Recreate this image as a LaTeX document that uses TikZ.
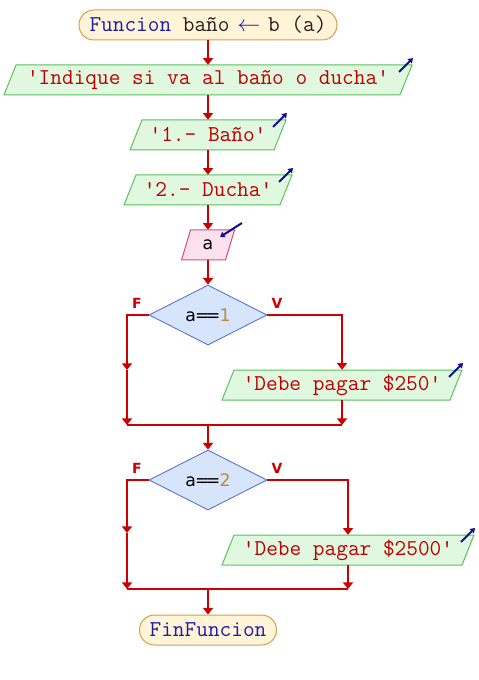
\documentclass[tikz,border=0pt]{standalone}
\usepackage{fontspec}
\setmainfont{Liberation Serif}
\newfontfamily\sansf{DejaVu Sans}
\usetikzlibrary{shapes.geometric,arrows.meta}
\definecolor{flow}{HTML}{CC0000}
\definecolor{termfill}{HTML}{FFF3D8}
\definecolor{termdraw}{HTML}{D4A04C}
\definecolor{outfill}{HTML}{DFF8DF}
\definecolor{outdraw}{HTML}{5CBF5C}
\definecolor{infill}{HTML}{FCE0EC}
\definecolor{indraw}{HTML}{D0508C}
\definecolor{decfill}{HTML}{D6E4FC}
\definecolor{decdraw}{HTML}{4A6AD0}
\definecolor{strred}{HTML}{C00000}
\definecolor{kwblue}{HTML}{1C1CAA}
\definecolor{idtext}{HTML}{2A2020}
\definecolor{numbrown}{HTML}{C08838}
\definecolor{iconblue}{HTML}{101090}
% #1 name, #2 cx, #3 cy, #4 half edge length, #5 text
\newcommand\outbox[5]{%
  \path[outshape] (#2-#4+6,#3-15) -- (#2+#4+6,#3-15) -- (#2+#4-6,#3+15) -- (#2-#4-6,#3+15) -- cycle;
  \node[iotext] (#1) at (#2,#3) {#5};
  \draw[icon] (#2+#4+6-13,#3-8) -- (#2+#4+6+1,#3-22);
}
\begin{document}
\begin{tikzpicture}[x=0.75pt,y=-0.75pt,
 arr/.style={draw=flow, line width=1.8pt, -{Triangle[length=5pt,width=7.5pt]}},
 flowline/.style={draw=flow, line width=1.8pt},
 term/.style={draw=termdraw, fill=termfill, line width=0.75pt, rounded corners=11.25pt, minimum height=22.5pt, inner sep=0pt, font=\ttfamily\fontsize{17}{19}\selectfont, text=kwblue},
 outshape/.style={draw=outdraw, fill=outfill, line width=0.75pt},
 inshape/.style={draw=indraw, fill=infill, line width=0.75pt},
 iotext/.style={inner sep=0pt, minimum height=22.5pt, font=\ttfamily\fontsize{17}{19}\selectfont, text=strred},
 dec/.style={diamond, aspect=2, draw=decdraw, fill=decfill, line width=0.6pt, minimum width=88.5pt, minimum height=45pt, inner sep=0pt, font=\sansf\fontsize{13}{15}\selectfont},
 lbl/.style={font=\sansf\bfseries\fontsize{10.5}{12}\selectfont, text=flow, inner sep=0pt},
 icon/.style={draw=iconblue, line width=1.5pt, -{Triangle[length=3.5pt,width=4.5pt]}},
]
\useasboundingbox (0,0) rectangle (478,680);

% start
\node[term, minimum width=193.5pt] (start) at (208,25)
  {Funcion {\color{idtext}baño}\makebox[1.7em]{$\leftarrow$}{\color{idtext}b (a)}};

% outputs
\outbox{o1}{208}{80}{198}{'Indique si va al baño o ducha'}
\outbox{o2}{208}{135}{72}{'1.- Baño'}
\outbox{o3}{208}{190}{78}{'2.- Ducha'}

% input
\path[inshape] (208-22+4.5,245-15) -- (208+22+4.5,245-15) -- (208+22-4.5,245+15) -- (208-22-4.5,245+15) -- cycle;
\node[iotext, font=\sansf\fontsize{13}{15}\selectfont, text=black] (in) at (208,245) {a};
\draw[icon] (242,223) -- (220,237);

% decision 1
\node[dec] (d1) at (208,315) {a\kern-0.05em=\kern-0.22em=\kern-0.05em{\color{numbrown}1}};
\node[lbl] (F1) at (137,303) {F};
\node[lbl] (V1) at (277,303) {V};
\outbox{o4}{342}{385}{114}{'Debe pagar \$250'}
\coordinate (f1) at (127,370);
\coordinate (j1l) at (127,425);
\coordinate (j1r) at (342,425);
\coordinate (j1) at (208,425);

% decision 2
\node[dec] (d2) at (208,480) {a\kern-0.05em=\kern-0.22em=\kern-0.05em{\color{numbrown}2}};
\node[lbl] (F2) at (137,468) {F};
\node[lbl] (V2) at (277,468) {V};
\outbox{o5}{348}{550}{120}{'Debe pagar \$2500'}
\coordinate (f2) at (127,533);
\coordinate (j2l) at (127,589);
\coordinate (j2r) at (348,589);
\coordinate (j2) at (208,589);

% end
\node[term, minimum width=102.75pt] (end) at (208,630) {FinFuncion};

% connectors
\draw[arr] (start) -- (o1);
\draw[arr] (o1) -- (o2);
\draw[arr] (o2) -- (o3);
\draw[arr] (o3) -- (in);
\draw[arr] (in) -- (d1);
\draw[arr] (d1.west) -| (f1);
\draw[arr] (f1) -- (j1l);
\draw[arr] (d1.east) -| (o4.north);
\draw[arr] (o4) -- (j1r);
\draw[flowline] (j1l) -- (j1r);
\draw[arr] (j1) -- (d2);
\draw[arr] (d2.west) -| (f2);
\draw[arr] (f2) -- (j2l);
\draw[arr] (d2.east) -| (o5.north);
\draw[arr] (o5) -- (j2r);
\draw[flowline] (j2l) -- (j2r);
\draw[arr] (j2) -- (end);
\end{tikzpicture}
\end{document}
